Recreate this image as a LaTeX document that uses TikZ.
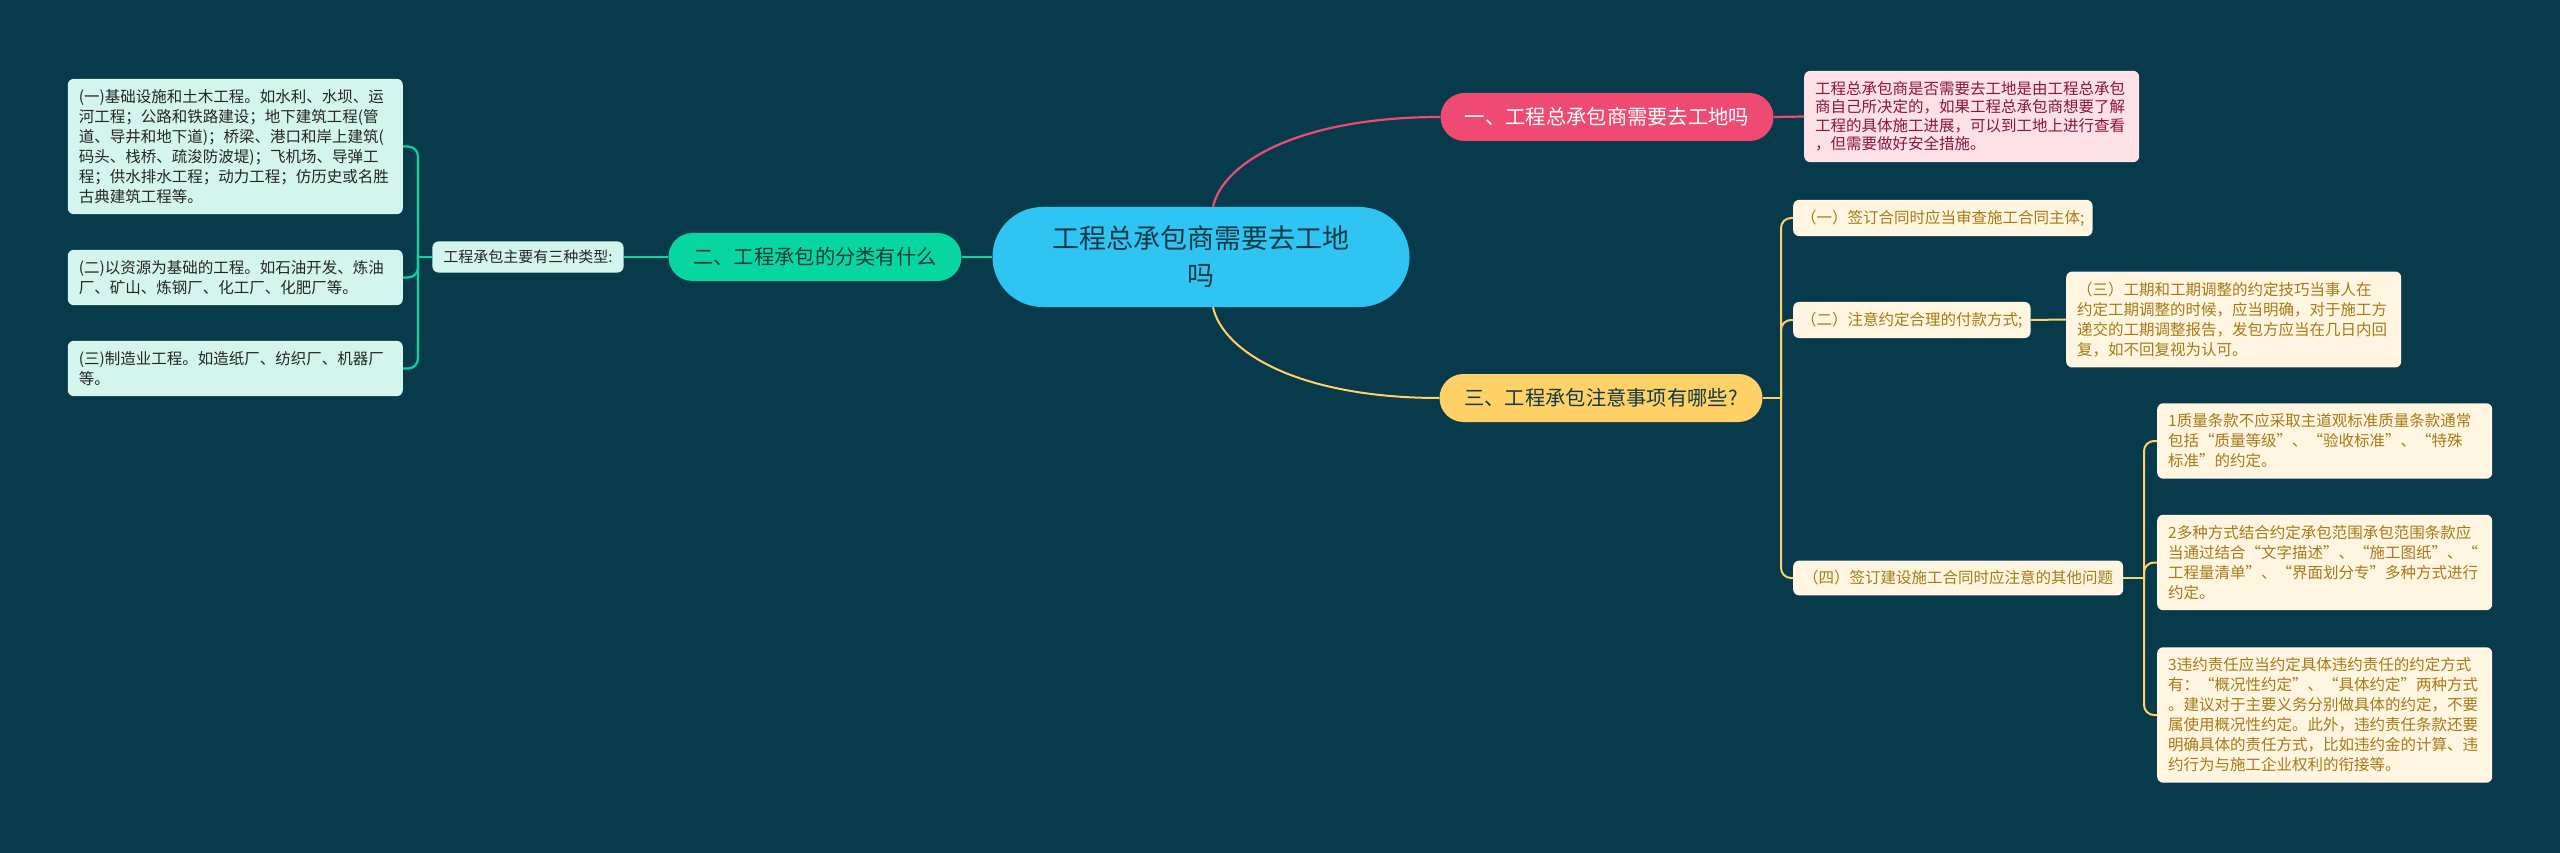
\documentclass[tikz,border=0pt]{standalone}
\usepackage{fontspec}
\setmainfont{Noto Sans CJK SC}
\usepackage{xcolor}
\usepackage{tikz}
\usetikzlibrary{positioning}

\definecolor{bgc}{HTML}{073B4C}
\definecolor{rootc}{HTML}{30C4F2}
\definecolor{pinkc}{HTML}{EE4A72}
\definecolor{pinkl}{HTML}{FDE1E7}
\definecolor{pinkt}{HTML}{8A1638}
\definecolor{greenc}{HTML}{08D6A0}
\definecolor{greenl}{HTML}{D3F5EC}
\definecolor{yellowc}{HTML}{FFD166}
\definecolor{yellowl}{HTML}{FFF5E0}
\definecolor{yellowt}{HTML}{A67A18}
\definecolor{darkt}{HTML}{123A46}

\begin{document}
\begin{tikzpicture}[x=1pt, y=-1pt,
  rootnode/.style={rectangle, rounded corners=50pt, fill=rootc, text=darkt, minimum width=417pt, minimum height=100pt, align=center, font=\fontsize{27}{37}\selectfont},
  branch/.style={rectangle, rounded corners=24pt, minimum height=48pt, inner xsep=0pt, font=\fontsize{20.3}{24}\selectfont},
  leaf/.style={rectangle, rounded corners=6pt, text width=313pt, inner xsep=11pt, inner ysep=10.5pt, align=left, font=\fontsize{15.5}{20}\selectfont},
  sub/.style={rectangle, rounded corners=6pt, fill=yellowl, text=yellowt, inner xsep=8pt, inner ysep=10pt, anchor=west, font=\fontsize{15.5}{20}\selectfont},
  pinkline/.style={draw=pinkc, line width=2.2pt},
  greenline/.style={draw=greenc, line width=2.2pt},
  yellowline/.style={draw=yellowc, line width=2pt, rounded corners=10pt}
]
\fill[bgc] (0,0) rectangle (2560,853);
\useasboundingbox (0,0) rectangle (2560,853);

\node[rootnode] (root) at (1201,257) {工程总承包商需要去工地\\吗};

% branch one
\node[branch, fill=pinkc, text=white, minimum width=333pt] (visit) at (1607,117) {一、工程总承包商需要去工地吗};
\node[leaf, fill=pinkl, text=pinkt, anchor=west, font=\fontsize{15.5}{18.5}\selectfont] (visitnote) at (1804,116.5) {工程总承包商是否需要去工地是由工程总承包\\商自己所决定的，如果工程总承包商想要了解\\工程的具体施工进展，可以到工地上进行查看\\，但需要做好安全措施。};

% branch two
\node[branch, fill=greenc, text=darkt, minimum width=293pt] (kinds) at (815,257) {二、工程承包的分类有什么};
\node[rectangle, rounded corners=6pt, fill=greenl, text=black!85, minimum height=31pt, inner xsep=11pt, font=\fontsize{15}{18}\selectfont] (kindsnote) at (528,257) {工程承包主要有三种类型:};
\node[leaf, fill=greenl, text=black!85, anchor=east] (civil) at (403,146.5) {(一)基础设施和土木工程。如水利、水坝、运\\河工程；公路和铁路建设；地下建筑工程(管\\道、导井和地下道)；桥梁、港口和岸上建筑(\\码头、栈桥、疏浚防波堤)；飞机场、导弹工\\程；供水排水工程；动力工程；仿历史或名胜\\古典建筑工程等。};
\node[leaf, fill=greenl, text=black!85, anchor=east] (resource) at (403,277.5) {(二)以资源为基础的工程。如石油开发、炼油\\厂、矿山、炼钢厂、化工厂、化肥厂等。};
\node[leaf, fill=greenl, text=black!85, anchor=east] (manuf) at (403,368.5) {(三)制造业工程。如造纸厂、纺织厂、机器厂\\等。};

% branch three
\node[branch, fill=yellowc, text=darkt, minimum width=323pt] (notes) at (1601,398) {三、工程承包注意事项有哪些?};
\node[sub] (subject) at (1793,218) {（一）签订合同时应当审查施工合同主体;};
\node[sub] (payment) at (1793,320) {（二）注意约定合理的付款方式;};
\node[sub, inner xsep=10pt] (other) at (1793,578) {（四）签订建设施工合同时应注意的其他问题};
\node[leaf, fill=yellowl, text=yellowt, anchor=west] (period) at (2066,319.5) {（三）工期和工期调整的约定技巧当事人在\\约定工期调整的时候，应当明确，对于施工方\\递交的工期调整报告，发包方应当在几日内回\\复，如不回复视为认可。};
\node[leaf, fill=yellowl, text=yellowt, anchor=west] (quality) at (2157,441) {1质量条款不应采取主道观标准质量条款通常\\包括“质量等级”、“验收标准”、“特殊\\标准”的约定。};
\node[leaf, fill=yellowl, text=yellowt, anchor=west] (scope) at (2157,562.5) {2多种方式结合约定承包范围承包范围条款应\\当通过结合“文字描述”、“施工图纸”、“\\工程量清单”、“界面划分专”多种方式进行\\约定。};
\node[leaf, fill=yellowl, text=yellowt, anchor=west] (liability) at (2157,715) {3违约责任应当约定具体违约责任的约定方式\\有：“概况性约定”、“具体约定”两种方式\\。建议对于主要义务分别做具体的约定，不要\\属使用概况性约定。此外，违约责任条款还要\\明确具体的责任方式，比如违约金的计算、违\\约行为与施工企业权利的衔接等。};

\coordinate (kj) at (418,257);
\coordinate (nj) at (1781,398);
\coordinate (oj) at (2144,578);

% connectors
\draw[pinkline] ([xshift=12pt]root.north) .. controls +(10,-45) and +(-140,0) .. (visit.west);
\draw[pinkline] (visit.east) -- (visitnote.west);
\draw[greenline] (root.west) -- (kinds.east);
\draw[greenline] (kinds.west) -- (kindsnote.east);
\draw[greenline] (kindsnote.west) -- (kj);
\draw[greenline, rounded corners=10pt] (kj) |- (civil.east);
\draw[greenline, rounded corners=10pt] (kj) |- (resource.east);
\draw[greenline, rounded corners=10pt] (kj) |- (manuf.east);
\draw[yellowline] ([xshift=12pt]root.south) .. controls +(10,45) and +(-140,0) .. (notes.west);
\draw[yellowline] (notes.east) -- (nj);
\draw[yellowline] (nj) |- (subject.west);
\draw[yellowline] (nj) |- (payment.west);
\draw[yellowline] (nj) |- (other.west);
\draw[yellowline] (payment.east) -- (period.west);
\draw[yellowline] (other.east) -- (oj);
\draw[yellowline] (oj) |- (quality.west);
\draw[yellowline] (oj) |- (scope.west);
\draw[yellowline] (oj) |- (liability.west);

\end{tikzpicture}
\end{document}
